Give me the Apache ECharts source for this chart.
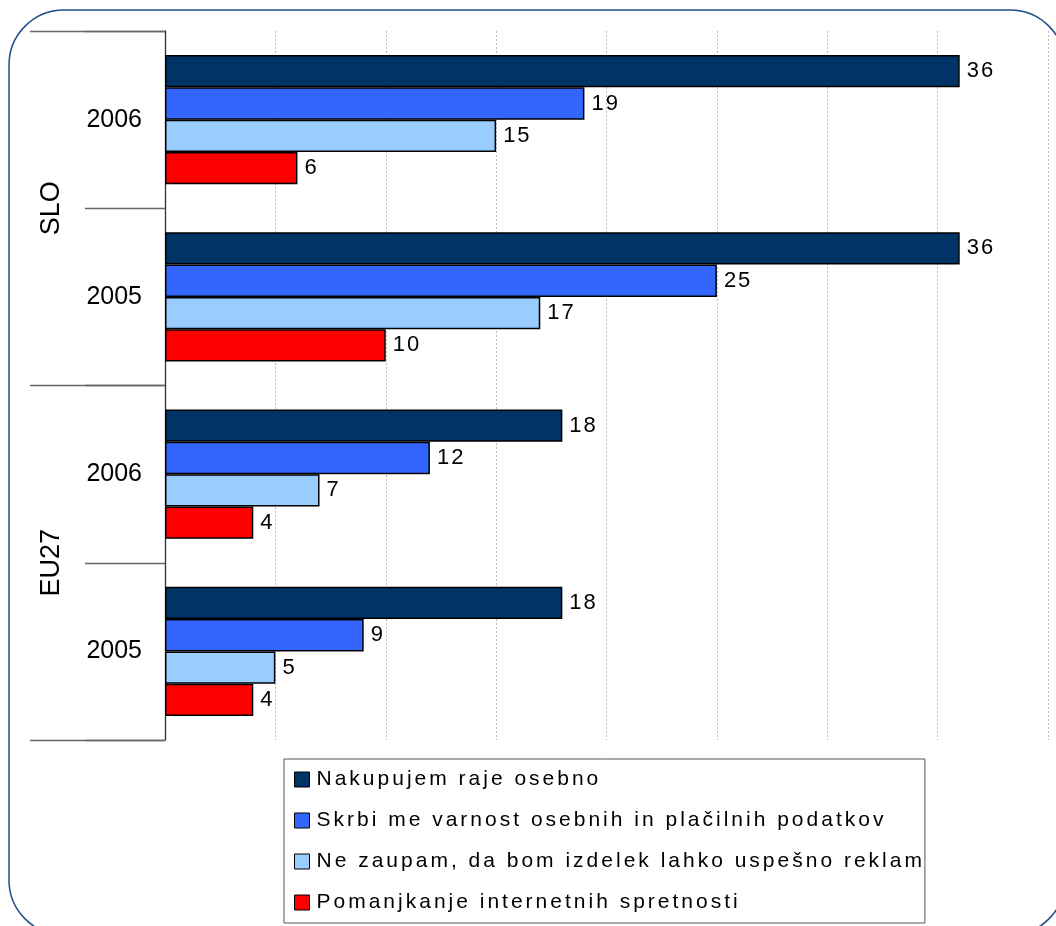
<!DOCTYPE html>
<html>
<head>
<meta charset="utf-8">
<title>Razlogi za nenakupovanje prek interneta</title>
<script src="https://cdn.jsdelivr.net/npm/echarts@6/dist/echarts.min.js"></script>
<style>
  html, body { margin: 0; padding: 0; background: #fff; }
  #chart { width: 1056px; height: 926px; }
</style>
</head>
<body>
<div id="chart"></div>
<script>
// Regions (outer band) and years (inner band), top to bottom
const regions = ['SLO', 'EU27'];
const years = ['2006', '2005'];

// Series names
const seriesNames = [
  'Nakupujem raje osebno',
  'Skrbi me varnost osebnih in plačilnih podatkov',
  'Ne zaupam, da bom izdelek lahko uspešno reklam',
  'Pomanjkanje internetnih spretnosti'
];

// Shares (%) per row: SLO 2006, SLO 2005, EU27 2006, EU27 2005
const nakupujem = [36, 36, 18, 18];
const varnost = [19, 25, 12, 9];
const zaupanje = [15, 17, 7, 5];
const spretnosti = [6, 10, 4, 4];

const colors = ['#003366', '#3366FF', '#99CCFF', '#FF0000'];

// Letter spacing by font size (px), applied when text is painted
const spacingBySize = { 21: 3, 22: 2 };
const origFillText = CanvasRenderingContext2D.prototype.fillText;
CanvasRenderingContext2D.prototype.fillText = function (t, x, y, w) {
  const m = /(\d+(?:\.\d+)?)px/.exec(this.font || '');
  const sp = m ? (spacingBySize[Math.round(+m[1])] || 0) : 0;
  if ('letterSpacing' in this) this.letterSpacing = sp + 'px';
  return w === undefined ? origFillText.call(this, t, x, y) : origFillText.call(this, t, x, y, w);
};

// Row keys combine region and year
const rowKeys = [];
regions.forEach(r => years.forEach(y => rowKeys.push(r + '|' + y)));

const values = [nakupujem, varnost, zaupanje, spretnosti];
const font = "'Liberation Sans', Arial, sans-serif";

const chart = echarts.init(document.getElementById('chart'), null, { renderer: 'canvas' });

chart.setOption({
  animation: false,
  backgroundColor: '#ffffff',
  textStyle: { fontFamily: font },
  graphic: [{
    type: 'rect',
    shape: { x: 9, y: 10, width: 1056, height: 925, r: 55 },
    style: { fill: null, stroke: '#1F4E89', lineWidth: 1.5 },
    silent: true,
    z: -1
  }],
  grid: { left: 165, top: 31, right: 8, bottom: 186, containLabel: false },
  legend: {
    orient: 'vertical',
    left: 284,
    top: 759,
    padding: [10, 138, 10, 10],
    itemGap: 20,
    itemWidth: 15,
    itemHeight: 15,
    icon: 'rect',
    borderColor: '#555',
    borderWidth: 1,
    backgroundColor: '#fff',
    itemStyle: { borderColor: '#000', borderWidth: 1 },
    textStyle: { fontSize: 21, color: '#000', fontFamily: font, padding: [0, 0, 0, 2] },
    data: seriesNames
  },
  xAxis: {
    type: 'value',
    min: 0,
    max: 40,
    interval: 5,
    axisLabel: { show: false },
    axisLine: { show: false },
    axisTick: { show: false },
    splitLine: { show: true, lineStyle: { color: '#BBBBBB', type: [2, 2], width: 1 } }
  },
  yAxis: [{
    type: 'category',
    inverse: true,
    data: rowKeys,
    axisLine: { show: true, lineStyle: { color: '#333', width: 1.3 } },
    axisTick: { show: true, interval: 0, length: 80, lineStyle: { color: '#666', width: 1.3 } },
    axisLabel: {
      interval: 0,
      margin: 23,
      fontSize: 25,
      color: '#000',
      fontFamily: font,
      formatter: v => v.split('|')[1]
    }
  }, {
    type: 'category',
    inverse: true,
    position: 'left',
    data: regions,
    axisLine: { show: false },
    axisTick: { show: true, interval: 0, length: 135, lineStyle: { color: '#666', width: 1.3 } },
    axisLabel: {
      interval: 0,
      rotate: 90,
      margin: 113,
      align: 'center',
      verticalAlign: 'middle',
      fontSize: 27,
      color: '#000',
      fontFamily: font
    }
  }],
  series: seriesNames.map((name, i) => ({
    name,
    type: 'bar',
    yAxisIndex: 0,
    data: values[i],
    barGap: '0%',
    barCategoryGap: '27%',
    itemStyle: { color: colors[i], borderColor: '#000', borderWidth: 1.5 },
    label: {
      show: true,
      position: 'right',
      distance: 7,
      fontSize: 22,
      color: '#000',
      fontFamily: font
    }
  }))
});
</script>
</body>
</html>
